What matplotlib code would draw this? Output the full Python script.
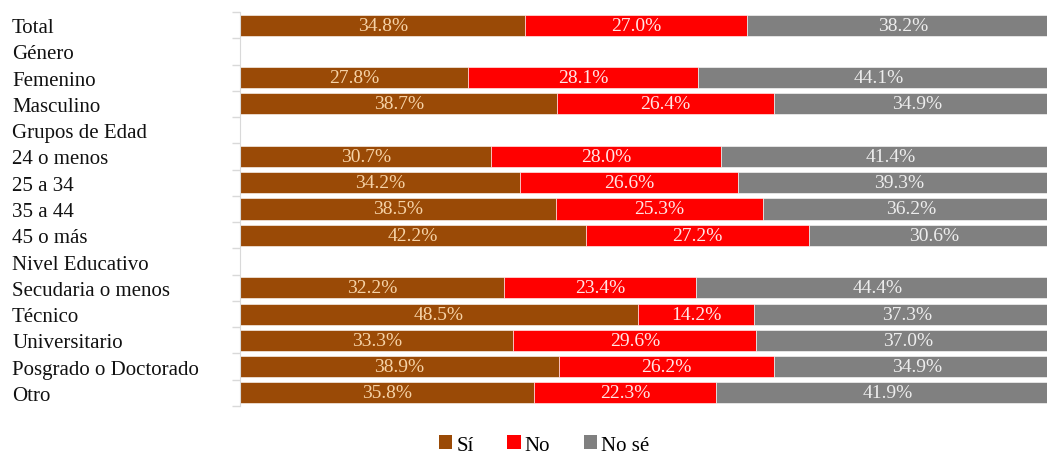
import numpy as np
import matplotlib
matplotlib.use("Agg")
import matplotlib.pyplot as plt
from matplotlib.patches import Patch

categories = ["Total", "Género", "Femenino", "Masculino", "Grupos de Edad",
              "24 o menos", "25 a 34", "35 a 44", "45 o más", "Nivel Educativo",
              "Secudaria o menos", "Técnico", "Universitario",
              "Posgrado o Doctorado", "Otro"]
nan = np.nan
si = [34.8, nan, 27.8, 38.7, nan, 30.7, 34.2, 38.5, 42.2, nan, 32.2, 48.5, 33.3, 38.9, 35.8]
no = [27.0, nan, 28.1, 26.4, nan, 28.0, 26.6, 25.3, 27.2, nan, 23.4, 14.2, 29.6, 26.2, 22.3]
nose = [38.2, nan, 44.1, 34.9, nan, 41.4, 39.3, 36.2, 30.6, nan, 44.4, 37.3, 37.0, 34.9, 41.9]
series_names = ["Sí", "No", "No sé"]

colors = ["#9A4A06", "#FF0000", "#808080"]
text_colors = ["#F6D2A6", "#FFE6E6", "#EDEDED"]

plt.rcParams['font.family'] = ['Liberation Serif', 'DejaVu Serif']

fig = plt.figure(figsize=(10.47, 4.56), dpi=100)
W, H = 1047, 456
ax = fig.add_axes([240 / W, 1 - 407 / H, 820 / W, (407 - 13) / H])

data = np.array([si, no, nose], dtype=float)
totals = np.nansum(data, axis=0)
y = np.arange(len(categories))
left = np.zeros(len(categories))
for k in range(3):
    vals = data[k]
    widths = np.where(np.isnan(vals), 0, vals / np.where(totals == 0, 1, totals) * 100)
    mask = ~np.isnan(vals)
    ax.barh(y[mask], widths[mask], left=left[mask], height=0.8, color=colors[k],
            edgecolor="white", linewidth=0.4)
    for i in np.where(mask)[0]:
        ax.text(left[i] + widths[i] / 2, y[i], f"{vals[i]:.1f}%", ha="center", va="center",
                fontsize=14, color=text_colors[k])
    left = left + widths

ax.set_xlim(0, 100)
ax.set_ylim(len(categories) - 0.5, -0.5)
ax.set_xticks([])
ax.set_yticks(y)
ax.set_yticklabels(categories, fontsize=15, ha="left", color="#111111")
ax.tick_params(axis="y", which="major", length=0, pad=(240 - 12) * 72 / 100)
ax.set_yticks(np.arange(-0.5, len(categories) + 0.5, 1), minor=True)
ax.tick_params(axis="y", which="minor", length=6, color="#D9D9D9", width=1)
for s in ["top", "right", "bottom"]:
    ax.spines[s].set_visible(False)
ax.spines["left"].set_color("#D9D9D9")

handles = [Patch(facecolor=c, edgecolor="none") for c in colors]
fig.legend(handles, series_names, loc="center", bbox_to_anchor=(544 / W, 1 - 446 / H),
           ncol=3, frameon=False, fontsize=15, handlelength=0.65, handleheight=0.65,
           handletextpad=0.2, columnspacing=1.6, borderpad=0)

fig.savefig("out.png", dpi=100)
